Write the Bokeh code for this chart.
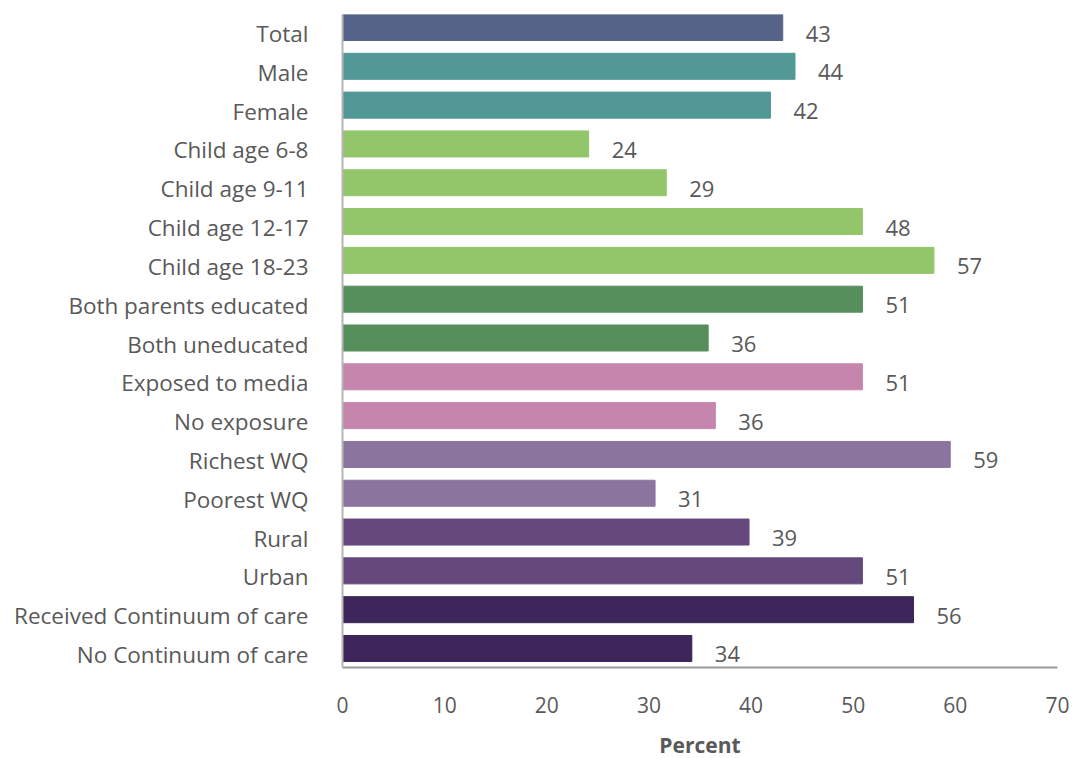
from bokeh.plotting import figure
from bokeh.models import Range1d, FixedTicker, CustomJSTickFormatter, ColumnDataSource
from bokeh.core.properties import value
from bokeh.embed import file_html
from bokeh.resources import INLINE

# Data (top to bottom)
categories = ["Total", "Male", "Female", "Child age 6-8", "Child age 9-11",
              "Child age 12-17", "Child age 18-23", "Both parents educated",
              "Both uneducated", "Exposed to media", "No exposure", "Richest WQ",
              "Poorest WQ", "Rural", "Urban", "Received Continuum of care",
              "No Continuum of care"]
bar_values = [43.1, 44.3, 41.9, 24.1, 31.7, 50.9, 57.9, 50.9, 35.8, 50.9,
              36.5, 59.5, 30.6, 39.8, 50.9, 55.9, 34.2]
label_values = [43, 44, 42, 24, 29, 48, 57, 51, 36, 51, 36, 59, 31, 39, 51, 56, 34]
colors = ["#566389", "#519896", "#519896", "#93c66b", "#93c66b", "#93c66b",
          "#93c66b", "#568e5c", "#568e5c", "#c585ad", "#c585ad", "#8b749d",
          "#8b749d", "#65497d", "#65497d", "#3d265a", "#3d265a"]
x_ticks = [0, 10, 20, 30, 40, 50, 60, 70]
x_title = "Percent"

n = len(categories)
ypos = [n - 1 - i for i in range(n)]
label_shift = 0.155
FONT = "Open Sans"
TXT = "#595959"

src = ColumnDataSource(dict(
    y=ypos, v=bar_values, c=colors,
    ly=[y - label_shift for y in ypos],
    lt=[str(v) for v in label_values],
))

p = figure(frame_width=715, frame_height=653,
           min_border_left=342, min_border_right=18,
           min_border_top=14, min_border_bottom=91,
           x_range=Range1d(0, 70), y_range=Range1d(-0.49, n - 1 + 0.335),
           output_backend="svg", toolbar_location=None,
           background_fill_color="white", border_fill_color="white")
p.outline_line_color = None
p.grid.visible = False

p.hbar(y="y", right="v", left=0, height=0.67, color="c", source=src)
p.text(x="v", y="ly", text="lt", source=src, x_offset=23,
       text_align="left", text_baseline="middle",
       text_font=value(FONT), text_font_size="22px", text_color=TXT)

# x axis
xa = p.xaxis[0]
xa.ticker = FixedTicker(ticks=x_ticks)
xa.major_tick_line_color = None
xa.minor_tick_line_color = None
xa.axis_line_color = "#9a9a9a"
xa.axis_line_width = 2
xa.major_label_text_font = FONT
xa.major_label_text_font_size = "21px"
xa.major_label_text_color = TXT
xa.major_label_standoff = 23
xa.axis_label = x_title
xa.axis_label_text_font = FONT
xa.axis_label_text_font_size = "21px"
xa.axis_label_text_font_style = "bold"
xa.axis_label_text_color = TXT
xa.axis_label_standoff = 15

# y axis
lab_bottom_up = [categories[n - 1 - k] for k in range(n)]
ya = p.yaxis[0]
ya.ticker = FixedTicker(ticks=[k - label_shift for k in range(n)])
ya.formatter = CustomJSTickFormatter(args=dict(labels=lab_bottom_up),
                                     code="return labels[Math.round(tick + 0.155)];")
ya.major_tick_line_color = None
ya.minor_tick_line_color = None
ya.axis_line_color = "#b5b5b5"
ya.axis_line_width = 2
ya.major_label_text_font = FONT
ya.major_label_text_font_size = "22.5px"
ya.major_label_text_color = TXT
ya.major_label_standoff = 28

open("out.html", "w").write(file_html(p, INLINE))
